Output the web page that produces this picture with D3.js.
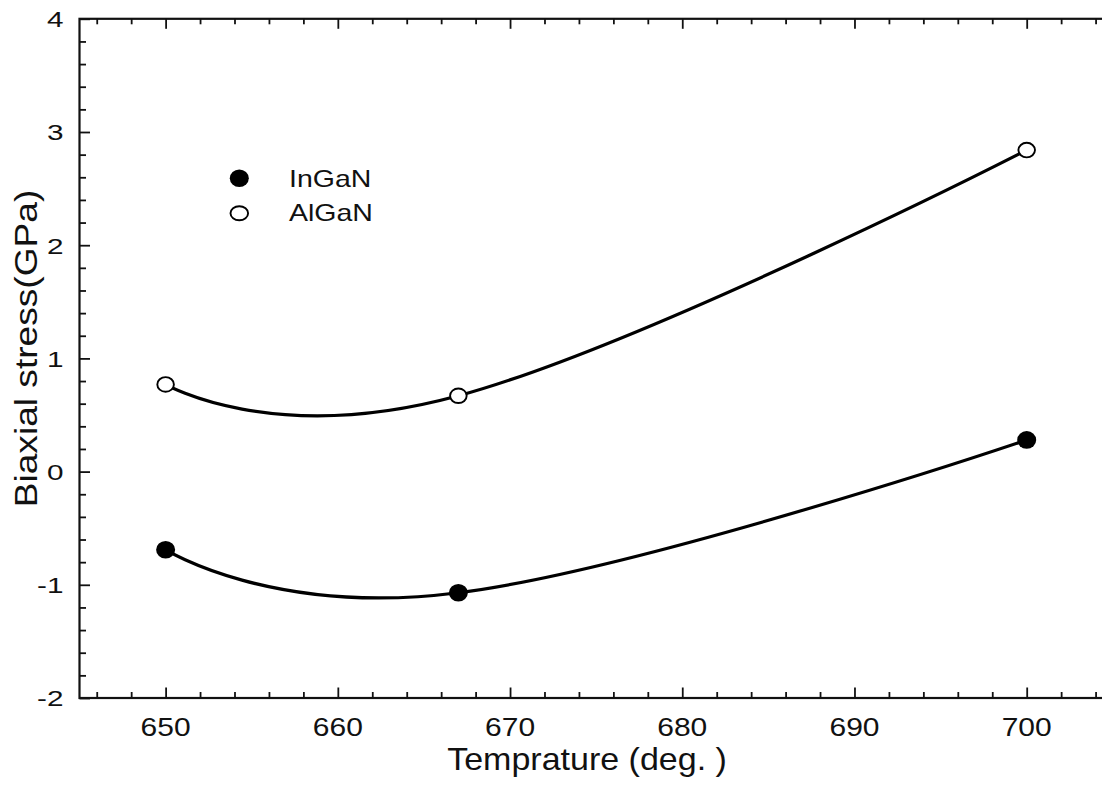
<!DOCTYPE html>
<html>
<head>
<meta charset="utf-8">
<script src="https://cdn.jsdelivr.net/npm/d3@7"></script>
<style>
  html, body { margin: 0; padding: 0; background: #fff; }
  svg { display: block; font-family: "Liberation Sans", Arial, sans-serif; }
</style>
</head>
<body>
<svg id="chart" width="1102" height="785"></svg>
<script>
// ---- data ----
const temps = [650, 667, 700];
const inganStress = [-0.69, -1.07, 0.28];
const alganStress = [0.77, 0.67, 2.84];
const seriesNames = ["InGaN", "AlGaN"];
const xTickValues = [650, 660, 670, 680, 690, 700];
const yTickValues = [-2, -1, 0, 1, 2, 3, 4];
const xTitle = "Temprature (deg. )";
const yTitle = "Biaxial stress(GPa)";

// ---- layout ----
const svg = d3.select("#chart");
const x = d3.scaleLinear().domain([645, 705]).range([79.5, 1112.8]);
const y = d3.scaleLinear().domain([-2, 4]).range([698, 18.8]);

const xMinor = d3.range(646, 705, 2).filter(v => v % 10 !== 0);
const yMinor = d3.range(-2, 4.001, 0.2).map(v => +v.toFixed(1)).filter(v => Math.abs(v - Math.round(v)) > 1e-6);

const g = svg.append("g");

function styleAxis(sel) {
  sel.select(".domain").remove();
  sel.selectAll("line").attr("stroke", "#111").attr("stroke-width", 1.8);
}
const [x0, x1] = x.range();
const [yb, yt] = y.range();

// major/minor ticks on all four sides, pointing inward
g.append("g").attr("transform", `translate(0,${yb})`)
  .call(d3.axisBottom(x).tickValues(xTickValues).tickSize(-10.5).tickFormat("")).call(styleAxis);
g.append("g").attr("transform", `translate(0,${yb})`)
  .call(d3.axisBottom(x).tickValues(xMinor).tickSize(-6).tickFormat("")).call(styleAxis);
g.append("g").attr("transform", `translate(0,${yt})`)
  .call(d3.axisTop(x).tickValues(xTickValues).tickSize(-10).tickFormat("")).call(styleAxis);
g.append("g").attr("transform", `translate(0,${yt})`)
  .call(d3.axisTop(x).tickValues(xMinor).tickSize(-5.5).tickFormat("")).call(styleAxis);
g.append("g").attr("transform", `translate(${x0},0)`)
  .call(d3.axisLeft(y).tickValues(yTickValues).tickSize(-10.5).tickFormat("")).call(styleAxis);
g.append("g").attr("transform", `translate(${x0},0)`)
  .call(d3.axisLeft(y).tickValues(yMinor).tickSize(-6.5).tickFormat("")).call(styleAxis);
g.append("g").attr("transform", `translate(${x1},0)`)
  .call(d3.axisRight(y).tickValues(yTickValues).tickSize(-10.8).tickFormat("")).call(styleAxis);
g.append("g").attr("transform", `translate(${x1},0)`)
  .call(d3.axisRight(y).tickValues(yMinor).tickSize(-6.5).tickFormat("")).call(styleAxis);

// frame
g.append("rect")
  .attr("x", x0).attr("y", yt).attr("width", x1 - x0).attr("height", yb - yt)
  .attr("fill", "none").attr("stroke", "#111").attr("stroke-width", 2.2);

// tick labels
g.append("g").selectAll("text").data(yTickValues).join("text")
  .attr("transform", d => `translate(63.5,${y(d) + 8.3}) scale(1.35,1)`)
  .attr("text-anchor", "end").attr("font-size", 22).attr("fill", "#111")
  .text(d => d);
g.append("g").selectAll("text").data(xTickValues).join("text")
  .attr("transform", d => `translate(${x(d)},${735.5}) scale(1.2,1)`)
  .attr("text-anchor", "middle").attr("font-size", 25).attr("fill", "#111")
  .text(d => d);

// axis titles
g.append("text")
  .attr("transform", "translate(587,769.5) scale(1.08,1)")
  .attr("text-anchor", "middle").attr("font-size", 31.5).attr("fill", "#111")
  .text(xTitle);
g.append("text")
  .attr("transform", "translate(36.5,348.5) rotate(-90) scale(1.16,1)")
  .attr("text-anchor", "middle").attr("font-size", 32).attr("fill", "#111")
  .text(yTitle);

// curves
const line = d3.line().x(d => x(d[0])).y(d => y(d[1])).curve(d3.curveCardinal.tension(-0.3));
const ingan = temps.map((t, i) => [t, inganStress[i]]);
const algan = temps.map((t, i) => [t, alganStress[i]]);
[ingan, algan].forEach(s => {
  g.append("path").datum(s).attr("d", line)
    .attr("fill", "none").attr("stroke", "#000").attr("stroke-width", 3.2)
    .attr("stroke-linejoin", "round");
});

// markers
g.append("g").selectAll("ellipse").data(algan).join("ellipse")
  .attr("cx", d => x(d[0])).attr("cy", d => y(d[1]))
  .attr("rx", 8.3).attr("ry", 7.3)
  .attr("fill", "#fff").attr("stroke", "#000").attr("stroke-width", 1.9);
g.append("g").selectAll("ellipse").data(ingan).join("ellipse")
  .attr("cx", d => x(d[0])).attr("cy", d => y(d[1]))
  .attr("rx", 9.5).attr("ry", 8.8)
  .attr("fill", "#000");

// legend
const legend = g.append("g");
const legendRows = [
  { name: seriesNames[0], filled: true, cy: 178.3, ty: 187.3 },
  { name: seriesNames[1], filled: false, cy: 213.3, ty: 221 }
];
legendRows.forEach(r => {
  if (r.filled) {
    legend.append("ellipse").attr("cx", 239.3).attr("cy", r.cy).attr("rx", 9.5).attr("ry", 8.8).attr("fill", "#000");
  } else {
    legend.append("ellipse").attr("cx", 239.3).attr("cy", r.cy).attr("rx", 8.8).attr("ry", 7)
      .attr("fill", "#fff").attr("stroke", "#000").attr("stroke-width", 1.9);
  }
  legend.append("text")
    .attr("transform", `translate(289,${r.ty}) scale(1.24,1)`)
    .attr("font-size", 23).attr("fill", "#111")
    .text(r.name);
});
</script>
</body>
</html>
